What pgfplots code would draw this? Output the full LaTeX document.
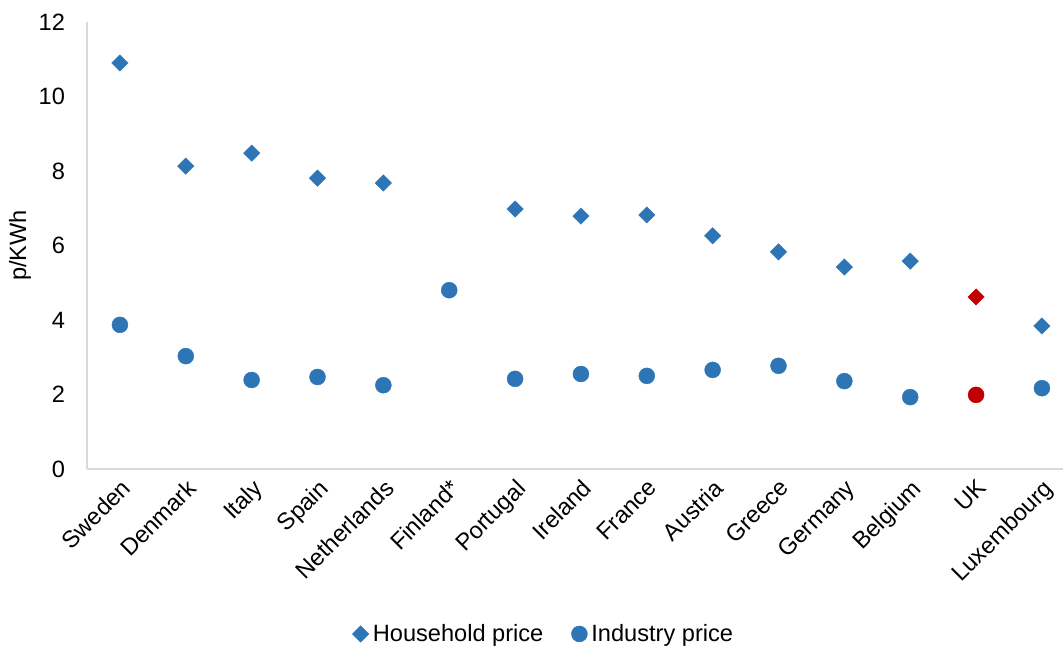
\documentclass[border=0pt]{standalone}
\usepackage{fontspec}
\setmainfont{Liberation Sans}
\usepackage{pgfplots}
\pgfplotsset{compat=1.18}
\definecolor{xblue}{HTML}{2E75B6}
\definecolor{xred}{HTML}{C00000}
\definecolor{axgrey}{HTML}{D9D9D9}
\begin{document}
\begin{tikzpicture}[x=1pt,y=1pt]
\path[use as bounding box] (0,0) rectangle (531.5,324);
\begin{axis}[
 at={(43.5pt,89.5pt)}, anchor=south west,
 scale only axis, width=488pt, height=223.5pt,
 xmin=-0.5, xmax=14.32, ymin=0, ymax=12,
 ytick={0,2,...,12},
 xtick={0,...,14},
 xticklabels={Sweden,Denmark,Italy,Spain,Netherlands,Finland*,Portugal,Ireland,France,Austria,Greece,Germany,Belgium,UK,Luxembourg},
 x tick label style={rotate=45, anchor=north east, inner sep=1pt, yshift=-2pt, xshift=-2pt},
 y tick label style={xshift=-7.5pt},
 axis x line=bottom, axis y line=left,
 axis line style={axgrey, line width=0.75pt, -},
 major tick length=0pt,
 font=\fontsize{11.8}{14}\selectfont,
 /pgf/number format/assume math mode=true,
 ylabel={p/KWh},
 ylabel style={at={(axis description cs:-0.0686,0.5)}, anchor=center},
 clip=false,
 legend style={at={(axis description cs:0.469,-0.369)}, anchor=center, draw=none, fill=none,
   legend columns=2, font=\fontsize{11.8}{14}\selectfont,
   /tikz/every even column/.append style={column sep=12pt}},
 legend cell align=left,
]
\addplot[only marks, mark=square*, mark size=2.9pt, mark options={rotate=45, fill=xblue, draw=xblue, line width=0.2pt}] coordinates {
(0,10.90) (1,8.13) (2,8.48) (3,7.81) (4,7.68)
(6,6.98) (7,6.79) (8,6.82) (9,6.26) (10,5.83) (11,5.42) (12,5.58) (14,3.84)
};
\addlegendentry{Household price}
\addplot[only marks, mark=*, mark size=4pt, mark options={fill=xblue, draw=xblue, line width=0.2pt}] coordinates {
(0,3.87) (1,3.03) (2,2.39) (3,2.47) (4,2.25) (5,4.80)
(6,2.42) (7,2.55) (8,2.50) (9,2.66) (10,2.77) (11,2.36) (12,1.93) (14,2.17)
};
\addlegendentry{Industry price}
\addplot[forget plot, only marks, mark=square*, mark size=2.9pt, mark options={rotate=45, fill=xred, draw=xred, line width=0.2pt}] coordinates {(13,4.62)};
\addplot[forget plot, only marks, mark=*, mark size=4pt, mark options={fill=xred, draw=xred, line width=0.2pt}] coordinates {(13,1.99)};
\end{axis}
\end{tikzpicture}
\end{document}
